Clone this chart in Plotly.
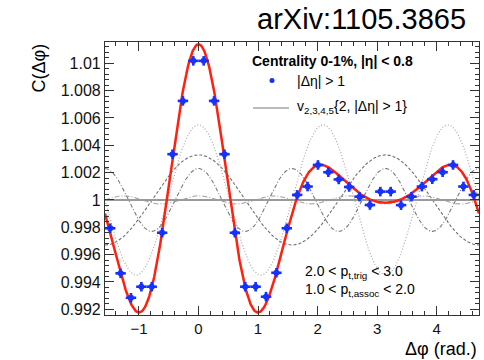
import numpy as np
import plotly.graph_objects as go

# Delta-phi binning over [-pi/2, 3pi/2]
n_bins = 36
phi_lo, phi_hi = -np.pi / 2, 3 * np.pi / 2

# Two-particle correlation C(dphi), one value per bin (|d eta| > 1)
c_vals = [0.99793, 0.99463, 0.99284, 0.99365, 0.99365, 0.99760,
          1.00335, 1.00725, 1.01018, 1.01018, 1.00725, 1.00335,
          0.99760, 0.99365, 0.99365, 0.99292, 0.99467, 0.99793,
          1.00037, 1.00098, 1.00256, 1.00203, 1.00150, 1.00095,
          1.00024, 0.99963, 1.00061, 1.00061, 0.99962, 1.00024,
          1.00098, 1.00152, 1.00203, 1.00256, 1.00098, 1.00037]
c_err = 0.00035

# Fourier harmonics: 1 + 2 V_n cos(n dphi)
harmonics = [2, 3, 4, 5]
vn_delta = [0.00165, 0.00275, 0.00115, 0.00015]
harm_styles = {2: dict(color="#707070", dash="3px,2px", width=1.1),
               3: dict(color="#a8a8a8", dash="1px,2px", width=1.2),
               4: dict(color="#7a7a7a", dash="4px,2px,1px,2px", width=1.1),
               5: dict(color="#9a9a9a", dash="5px,2px,1px,2px", width=1.0)}

y_ticks = [0.992, 0.994, 0.996, 0.998, 1.0, 1.002, 1.004, 1.006, 1.008, 1.01]
y_tick_text = ["0.992", "0.994", "0.996", "0.998", "1", "1.002", "1.004",
               "1.006", "1.008", "1.01"]
x_ticks = [-1, 0, 1, 2, 3, 4]

half_w = (phi_hi - phi_lo) / n_bins / 2
centers = phi_lo + (np.arange(n_bins) + 0.5) * 2 * half_w
phi = np.linspace(phi_lo, phi_hi, 600)

fig = go.Figure()

total = np.ones_like(phi)
for n, v in zip(harmonics, vn_delta):
    comp = 2 * v * np.cos(n * phi)
    total = total + comp
    fig.add_trace(go.Scatter(x=phi, y=1 + comp, mode="lines",
                             line=harm_styles[n], hoverinfo="skip"))

# baseline at unity
fig.add_trace(go.Scatter(x=[phi_lo, phi_hi], y=[1, 1], mode="lines",
                         line=dict(color="#9a9a9a", width=2), hoverinfo="skip"))

# sum of harmonics
fig.add_trace(go.Scatter(x=phi, y=total, mode="lines",
                         line=dict(color="#ff2010", width=2.5)))

# data points
fig.add_trace(go.Scatter(
    x=centers, y=c_vals, mode="markers",
    marker=dict(color="#1530ff", size=6, symbol="circle"),
    error_x=dict(type="constant", value=half_w, color="#1530ff",
                 thickness=2.6, width=0),
    error_y=dict(type="constant", value=c_err, color="#1530ff",
                 thickness=2.6, width=0)))

font = "Liberation Sans, Arial, sans-serif"
axis_common = dict(showline=True, linecolor="#333", linewidth=1.2, mirror="allticks",
                   ticks="inside", ticklen=9, tickcolor="#333", showgrid=False,
                   zeroline=False)

L, R, T, B = 105, 5, 42, 45
W, H = 484 - L - R, 360 - T - B

fig.update_layout(
    width=484, height=360,
    margin=dict(l=L, r=R, t=T, b=B),
    paper_bgcolor="white", plot_bgcolor="white",
    showlegend=False,
    xaxis=dict(range=[phi_lo, phi_hi], tickvals=x_ticks,
               tickfont=dict(family=font, size=15, color="#111"),
               minor=dict(dtick=0.2, ticklen=4, ticks="inside", tickcolor="#333"),
               **axis_common),
    yaxis=dict(range=[0.99158, 1.01156], tickvals=y_ticks, ticktext=y_tick_text,
               tickfont=dict(family=font, size=16, color="#111"),
               minor=dict(dtick=0.0004, tick0=0.992, ticklen=4, ticks="inside",
                          tickcolor="#333"),
               **axis_common),
)


def canvas_x(p):
    # canvas pixel column -> paper x of the plot area
    return (p - L) / W


def canvas_y(p):
    # canvas pixel row -> paper y of the plot area
    return 1 - (p - T) / H


def label(text, cx, cy, size, xanchor="left", yanchor="middle", angle=0):
    return dict(text=text, x=canvas_x(cx), y=canvas_y(cy), xref="paper", yref="paper",
                xanchor=xanchor, yanchor=yanchor, textangle=angle, showarrow=False,
                font=dict(family=font, size=size, color="black"))


annotations = [
    label("arXiv:1105.3865", 468, 19, 29, xanchor="right"),
    label("C(Δφ)", 38, 42, 18, xanchor="center", yanchor="top", angle=-90),
    label("Δφ (rad.)", 479, 349, 18, xanchor="right"),
    label("<b>Centrality 0-1%, |η| < 0.8</b>", 250, 61, 14),
    label("|Δη| > 1", 295, 81, 14),
    label("v<sub>2,3,4,5</sub>{2, |Δη| > 1}", 295, 107, 14),
    label("2.0 < p<sub>t,trig</sub> < 3.0", 303, 272, 14),
    label("1.0 < p<sub>t,assoc</sub> < 2.0", 303, 290, 14),
]

shapes = [
    dict(type="circle", xref="paper", yref="paper",
         x0=canvas_x(269.5), x1=canvas_x(274.5), y0=canvas_y(83), y1=canvas_y(78),
         fillcolor="#1530ff", line=dict(width=0)),
    dict(type="line", xref="paper", yref="paper",
         x0=canvas_x(253), x1=canvas_x(289), y0=canvas_y(108), y1=canvas_y(108),
         line=dict(color="#777", width=1)),
]
fig.update_layout(annotations=annotations, shapes=shapes)

fig.write_html("out.html")
